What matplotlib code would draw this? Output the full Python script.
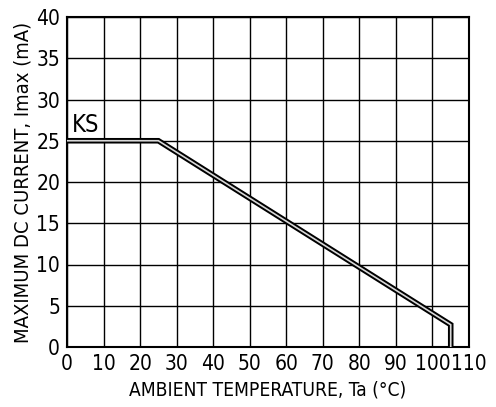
import matplotlib
matplotlib.use("Agg")
import matplotlib.pyplot as plt

temps = [0, 25, 105, 105]
current = [25, 25, 2.7, 0]
xticks = list(range(0, 111, 10))
yticks = list(range(0, 41, 5))

plt.rcParams['font.family'] = ['DejaVu Sans']
plt.rcParams['font.stretch'] = 'condensed'

fig = plt.figure(figsize=(4.96, 4.07), dpi=100)
ax = fig.add_axes([67/496, 1-347/407, (469-67)/496, (347-17)/407])
ax.set_xlim(0, 110)
ax.set_ylim(0, 40)
ax.set_xticks(xticks)
ax.set_yticks(yticks)
ax.grid(True, color='black', linewidth=1.0)
ax.tick_params(length=0, labelsize=15, pad=5)
for lbl in ax.get_xticklabels() + ax.get_yticklabels():
    lbl.set_fontstretch('condensed')
for s in ax.spines.values():
    s.set_linewidth(1.5)

ax.plot(temps, current, color='black', linewidth=4.0, solid_joinstyle='miter', zorder=3)
ax.plot(temps, current, color='#d8d8d8', linewidth=1.2, solid_joinstyle='miter', zorder=4)

ax.text(1.4, 26.0, "KS", fontsize=17, ha='left', va='baseline', fontstretch='condensed')
ax.set_xlabel("AMBIENT TEMPERATURE, Ta (°C)", fontsize=13.8, labelpad=5, fontstretch='condensed')
ax.set_ylabel("MAXIMUM DC CURRENT, Imax (mA)", fontsize=14.5, labelpad=3, fontstretch='condensed')

fig.savefig("out.png", dpi=100)
